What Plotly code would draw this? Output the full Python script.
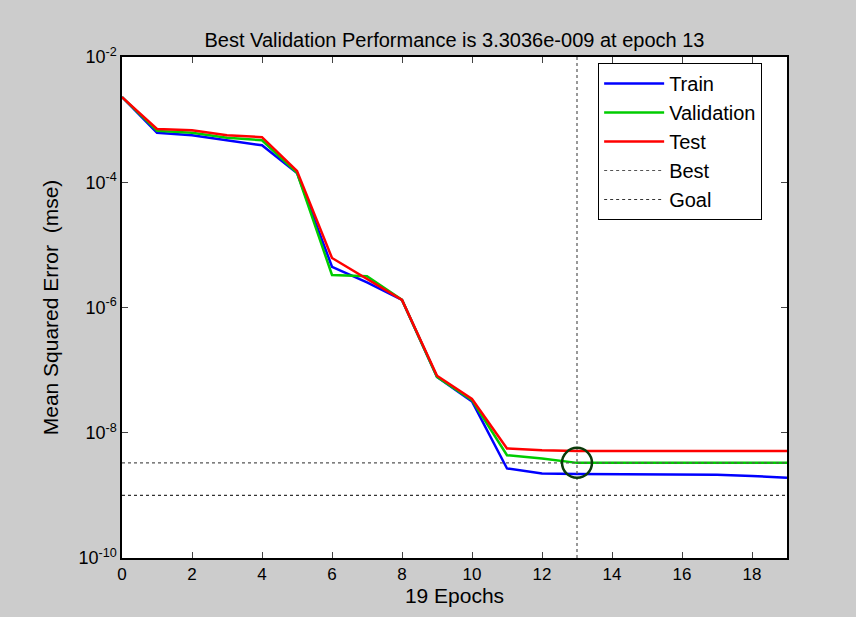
import plotly.graph_objects as go

epochs = list(range(20))
train = [2.29e-3, 6.17e-4, 5.62e-4, 4.68e-4, 3.89e-4, 1.41e-4, 4.47e-6, 2.51e-6, 1.32e-6, 7.76e-8,
         3.16e-8, 2.69e-9, 2.24e-9, 2.19e-9, 2.19e-9, 2.19e-9, 2.19e-9, 2.14e-9, 2.04e-9, 1.91e-9]
validation = [2.29e-3, 6.61e-4, 6.17e-4, 5.13e-4, 4.68e-4, 1.41e-4, 3.31e-6, 3.16e-6, 1.32e-6, 7.76e-8,
              3.31e-8, 4.37e-9, 3.89e-9, 3.3036e-9, 3.3036e-9, 3.3036e-9, 3.3036e-9, 3.3036e-9, 3.3036e-9, 3.3036e-9]
test = [2.29e-3, 7.08e-4, 6.76e-4, 5.62e-4, 5.25e-4, 1.51e-4, 6.17e-6, 2.82e-6, 1.32e-6, 8.13e-8,
        3.47e-8, 5.62e-9, 5.25e-9, 5.13e-9, 5.13e-9, 5.13e-9, 5.13e-9, 5.13e-9, 5.13e-9, 5.13e-9]
best_epoch = 13
best_value = 3.3036e-9
goal = 1e-9
y_range_exp = (-10, -2)
y_tick_exps = [-2, -4, -6, -8, -10]
x_ticks = list(range(0, 19, 2))

FONT = "Liberation Sans, Arial, sans-serif"
fig = go.Figure()
fig.add_trace(go.Scatter(x=epochs, y=train, mode="lines", name="Train",
                         line=dict(color="#0000ff", width=2.5)))
fig.add_trace(go.Scatter(x=epochs, y=validation, mode="lines", name="Validation",
                         line=dict(color="#00cc00", width=2.5)))
fig.add_trace(go.Scatter(x=epochs, y=test, mode="lines", name="Test",
                         line=dict(color="#ff0000", width=2.5)))
ylo, yhi = 10 ** y_range_exp[0], 10 ** y_range_exp[1]
fig.add_trace(go.Scatter(x=[best_epoch, best_epoch, None, epochs[0], epochs[-1]],
                         y=[ylo, yhi, None, best_value, best_value],
                         mode="lines", name="Best",
                         line=dict(color="#555555", width=1.2, dash="dot")))
fig.add_trace(go.Scatter(x=[epochs[0], epochs[-1]], y=[goal, goal], mode="lines", name="Goal",
                         line=dict(color="#333333", width=1.2, dash="dot")))
fig.add_trace(go.Scatter(x=[best_epoch], y=[best_value], mode="markers", showlegend=False,
                         marker=dict(symbol="circle-open", size=30, color="#0a3a0a",
                                     line=dict(width=2.5, color="#0a3a0a"))))

fig.update_layout(
    width=856, height=617,
    margin=dict(l=122, r=69, t=57, b=59),
    paper_bgcolor="#cccccc", plot_bgcolor="#ffffff",
    font=dict(family=FONT, size=17, color="#000000"),
    title=dict(text="Best Validation Performance is 3.3036e-009 at epoch 13",
               x=(122 + 787) / 2 / 856, xanchor="center", y=1 - 40 / 617, yanchor="middle",
               font=dict(size=20)),
    xaxis=dict(range=[0, 19], tickvals=x_ticks, ticks="inside", ticklen=6, mirror="ticks",
               showline=True, linecolor="#000000", linewidth=1.5, showgrid=False, zeroline=False,
               title=dict(text="19 Epochs", standoff=2, font=dict(size=21)),
               tickfont=dict(size=17)),
    yaxis=dict(type="log", range=list(y_range_exp),
               tickvals=[10 ** e for e in y_tick_exps],
               ticktext=["10<sup>%d</sup>" % e for e in y_tick_exps],
               ticks="inside", ticklen=6, mirror="ticks", showline=True, linecolor="#000000",
               linewidth=1.5, showgrid=False, zeroline=False,
               title=dict(text="Mean Squared Error  (mse)", standoff=14, font=dict(size=21)),
               tickfont=dict(size=18)),
    legend=dict(x=0.716, y=0.988, xanchor="left", yanchor="top", bgcolor="#ffffff",
                bordercolor="#000000", borderwidth=1, font=dict(size=20),
                itemwidth=60, tracegroupgap=0),
)
fig.write_html("out.html")
